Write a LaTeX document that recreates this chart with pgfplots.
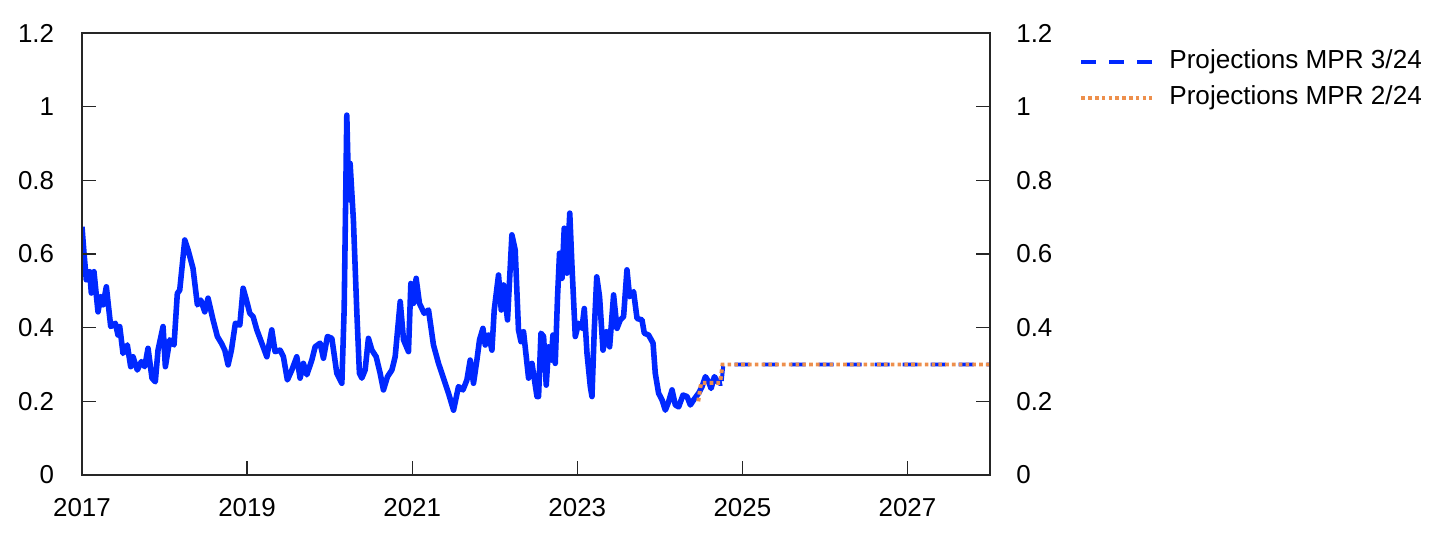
\documentclass[border=0pt]{standalone}
\usepackage{fontspec}
\setmainfont{Liberation Sans}
\usepackage{pgfplots}
\pgfplotsset{compat=1.18}
\definecolor{histblue}{RGB}{0,40,255}
\definecolor{projorange}{RGB}{237,143,76}
\pgfplotsset{
 base/.style={
  width=454bp, height=221bp, scale only axis,
  at={(0,0)}, anchor=south west,
  xmin=2017, xmax=2028, ymin=0, ymax=1.2,
  xtick={2017,2019,2021,2023,2025,2027},
  ytick={0,0.2,0.4,0.6,0.8,1,1.2},
  xtick pos=left,
  tick align=inside, major tick length=7bp,
  axis line style={draw=black!85, line width=0.6pt},
  tick style={black!85, line width=0.6pt},
  /pgf/number format/assume math mode=true,
  tick label style={font=\fontsize{13}{15}\selectfont},
  xticklabel style={/pgf/number format/1000 sep={}, yshift=-8pt},
 }
}
\begin{document}
\begin{tikzpicture}
\path[use as bounding box] (-41bp,-34bp) rectangle (681.5bp,237.5bp);
\begin{axis}[base,
  yticklabel style={xshift=-10.5pt},
  legend image code/.code={\draw[#1] (0bp,0bp) -- (35.5bp,0bp);},
  legend style={draw=none, fill=none, at={(1,1)}, anchor=north west,
    xshift=44.5bp, yshift=-8bp, font=\fontsize{13.1}{15}\selectfont,
    inner sep=0pt, row sep=5.5pt,
    nodes={inner sep=0pt, text height=9.5pt, text depth=3pt},
    /tikz/every odd column/.style={column sep=7.5bp}},
  legend cell align=left]
\addplot[histblue, line width=2.8pt, line join=round, forget plot] coordinates {
(2017.000,0.674) (2017.024,0.603) (2017.052,0.530) (2017.093,0.552) (2017.113,0.494)
(2017.145,0.552) (2017.194,0.443) (2017.227,0.484) (2017.255,0.462) (2017.295,0.511)
(2017.348,0.403) (2017.404,0.412) (2017.436,0.380) (2017.457,0.403) (2017.497,0.330)
(2017.549,0.353) (2017.590,0.294) (2017.618,0.321) (2017.670,0.285) (2017.719,0.308)
(2017.760,0.294) (2017.800,0.344) (2017.848,0.263) (2017.888,0.253) (2017.921,0.339)
(2017.982,0.403) (2018.010,0.294) (2018.063,0.367) (2018.115,0.353) (2018.155,0.493)
(2018.184,0.502) (2018.245,0.638) (2018.285,0.611) (2018.345,0.561) (2018.398,0.462)
(2018.439,0.475) (2018.487,0.443) (2018.527,0.480) (2018.588,0.421) (2018.640,0.376)
(2018.688,0.358) (2018.730,0.339) (2018.770,0.299) (2018.810,0.339) (2018.858,0.412)
(2018.912,0.407) (2018.952,0.507) (2018.992,0.475) (2019.033,0.439) (2019.073,0.430)
(2019.118,0.394) (2019.178,0.358) (2019.239,0.321) (2019.299,0.394) (2019.339,0.335)
(2019.400,0.339) (2019.440,0.321) (2019.488,0.258) (2019.542,0.285) (2019.602,0.321)
(2019.642,0.263) (2019.682,0.303) (2019.724,0.272) (2019.784,0.312) (2019.824,0.348)
(2019.885,0.358) (2019.925,0.317) (2019.973,0.376) (2020.027,0.371) (2020.087,0.276)
(2020.148,0.249) (2020.176,0.450) (2020.208,0.977) (2020.221,0.855) (2020.240,0.747)
(2020.248,0.846) (2020.288,0.692) (2020.330,0.439) (2020.361,0.276) (2020.390,0.263)
(2020.430,0.285) (2020.470,0.371) (2020.512,0.339) (2020.564,0.321) (2020.612,0.276)
(2020.652,0.231) (2020.701,0.267) (2020.754,0.285) (2020.794,0.321) (2020.855,0.471)
(2020.895,0.367) (2020.955,0.335) (2020.984,0.520) (2021.016,0.466) (2021.048,0.534)
(2021.088,0.466) (2021.145,0.439) (2021.198,0.448) (2021.258,0.353) (2021.319,0.303)
(2021.379,0.263) (2021.440,0.222) (2021.501,0.176) (2021.561,0.240) (2021.615,0.231)
(2021.663,0.258) (2021.703,0.312) (2021.743,0.249) (2021.784,0.312) (2021.816,0.367)
(2021.857,0.398) (2021.885,0.353) (2021.925,0.380) (2021.966,0.339) (2021.994,0.448)
(2022.046,0.543) (2022.079,0.448) (2022.107,0.516) (2022.155,0.421) (2022.208,0.652)
(2022.248,0.611) (2022.288,0.394) (2022.318,0.362) (2022.349,0.389) (2022.410,0.263)
(2022.451,0.303) (2022.512,0.213) (2022.531,0.213) (2022.560,0.385) (2022.592,0.376)
(2022.624,0.244) (2022.652,0.348) (2022.685,0.312) (2022.705,0.380) (2022.733,0.303)
(2022.761,0.484) (2022.785,0.602) (2022.815,0.534) (2022.842,0.670) (2022.875,0.548)
(2022.909,0.711) (2022.936,0.566) (2022.976,0.376) (2023.016,0.412) (2023.057,0.398)
(2023.085,0.452) (2023.118,0.330) (2023.158,0.240) (2023.178,0.213) (2023.206,0.394)
(2023.236,0.538) (2023.270,0.484) (2023.312,0.339) (2023.352,0.389) (2023.392,0.348)
(2023.440,0.489) (2023.481,0.398) (2023.521,0.421) (2023.561,0.430) (2023.602,0.557)
(2023.634,0.484) (2023.682,0.498) (2023.724,0.425) (2023.784,0.421) (2023.812,0.385)
(2023.864,0.380) (2023.918,0.358) (2023.945,0.276) (2023.985,0.222) (2024.027,0.204)
(2024.067,0.176) (2024.107,0.199) (2024.148,0.231) (2024.188,0.190) (2024.228,0.185)
(2024.281,0.217) (2024.330,0.213) (2024.370,0.190) (2024.410,0.204) (2024.470,0.222)
(2024.512,0.240) (2024.552,0.267) (2024.592,0.253) (2024.621,0.235) (2024.661,0.267)
(2024.701,0.253) (2024.733,0.249) (2024.754,0.250)
};
\addplot[histblue, line width=2pt, dash pattern=on 7.5bp off 6.5bp] coordinates {
(2024.750,0.255) (2024.770,0.300) (2028,0.300)
};
\addlegendentry{Projections MPR 3/24}
\addplot[projorange, line width=2pt, dash pattern=on 1.8bp off 1.6bp] coordinates {
(2024.466,0.200) (2024.500,0.250) (2024.730,0.250) (2024.760,0.300) (2028,0.300)
};
\addlegendentry{Projections MPR 2/24}
\end{axis}
\begin{axis}[base, xtick=\empty, yticklabel pos=right,
  yticklabel style={xshift=9.7pt}]
\end{axis}
\end{tikzpicture}
\end{document}
